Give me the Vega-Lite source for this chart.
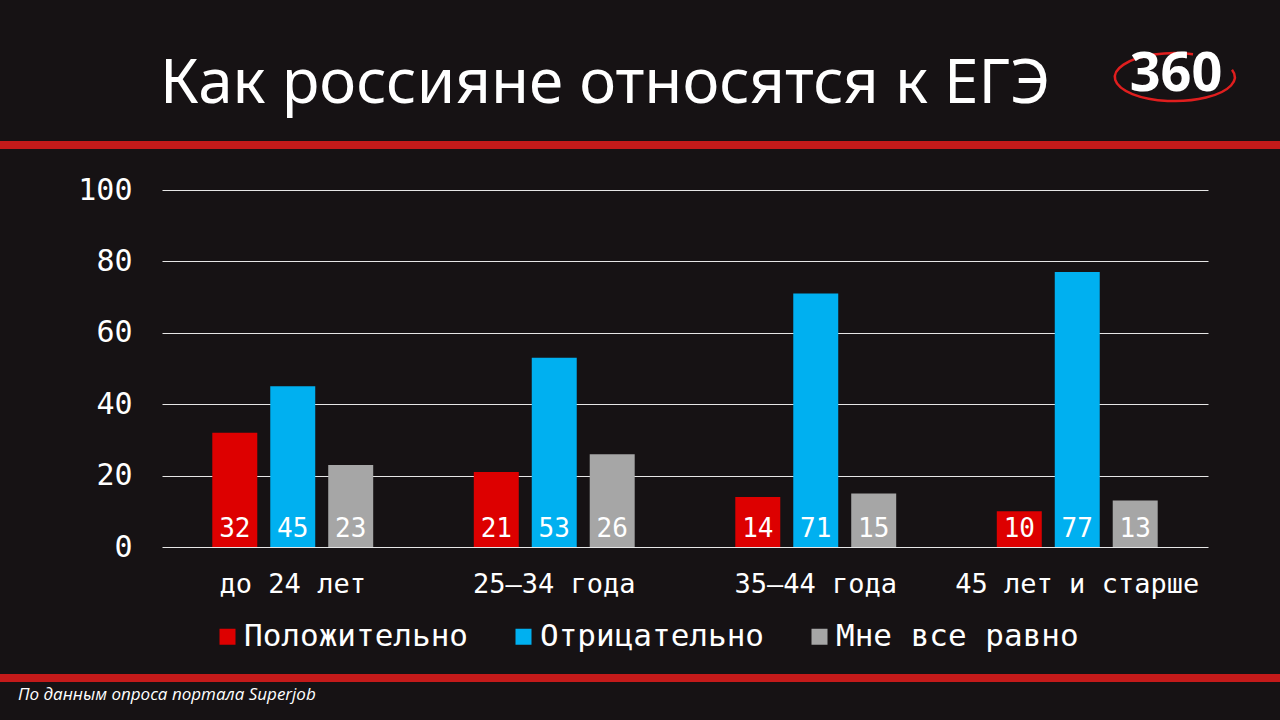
{
  "$schema": "https://vega.github.io/schema/vega-lite/v6.json",
  "width": 1046,
  "height": 357,
  "autosize": {"type": "none"},
  "padding": {"left": 162, "top": 190, "right": 72, "bottom": 173},
  "background": "#161214",
  "data": {
    "values": [
      {"age": "до 24 лет", "answer": "Положительно", "value": 32},
      {"age": "до 24 лет", "answer": "Отрицательно", "value": 45},
      {"age": "до 24 лет", "answer": "Мне все равно", "value": 23},
      {"age": "25–34 года", "answer": "Положительно", "value": 21},
      {"age": "25–34 года", "answer": "Отрицательно", "value": 53},
      {"age": "25–34 года", "answer": "Мне все равно", "value": 26},
      {"age": "35–44 года", "answer": "Положительно", "value": 14},
      {"age": "35–44 года", "answer": "Отрицательно", "value": 71},
      {"age": "35–44 года", "answer": "Мне все равно", "value": 15},
      {"age": "45 лет и старше", "answer": "Положительно", "value": 10},
      {"age": "45 лет и старше", "answer": "Отрицательно", "value": 77},
      {"age": "45 лет и старше", "answer": "Мне все равно", "value": 13}
    ]
  },
  "layer": [
    {
      "mark": {"type": "bar"},
      "encoding": {
        "x": {
          "field": "age", "type": "nominal", "sort": null,
          "scale": {"paddingInner": 0.335, "paddingOuter": 0.1675},
          "axis": {"title": null, "labelAngle": 0, "domain": false, "ticks": false, "labelPadding": 24, "labelLimit": 0,
                   "labelFont": "DejaVu Sans Mono", "labelFontSize": 27, "labelColor": "#ffffff"}
        },
        "xOffset": {
          "field": "answer", "type": "nominal",
          "sort": ["Положительно", "Отрицательно", "Мне все равно"],
          "scale": {"paddingInner": 0.224, "paddingOuter": 0.112}
        },
        "y": {
          "field": "value", "type": "quantitative",
          "scale": {"domain": [0, 100]},
          "axis": {"title": null, "values": [0, 20, 40, 60, 80, 100], "domain": false, "ticks": false,
                   "labelPadding": 30, "labelFont": "DejaVu Sans Mono", "labelFontSize": 30, "labelColor": "#ffffff",
                   "grid": true, "gridColor": "#e6e6e6", "gridWidth": 1.2, "gridOpacity": 1}
        },
        "color": {
          "field": "answer", "type": "nominal",
          "scale": {"domain": ["Положительно", "Отрицательно", "Мне все равно"], "range": ["#dd0000", "#00b0f0", "#a6a6a6"]},
          "legend": {"title": null, "orient": "none", "legendX": 50, "legendY": 431, "direction": "horizontal",
                     "labelFont": "DejaVu Sans Mono", "labelFontSize": 31, "labelColor": "#ffffff", "labelLimit": 0,
                     "symbolType": "square", "symbolSize": 256, "symbolStrokeWidth": 0, "symbolOpacity": 1,
                     "labelOffset": 1, "columnPadding": 40}
        }
      }
    },
    {
      "mark": {"type": "text", "baseline": "alphabetic", "dy": -10, "font": "DejaVu Sans Mono", "fontSize": 26, "color": "#ffffff"},
      "encoding": {
        "x": {"field": "age", "type": "nominal", "sort": null},
        "xOffset": {"field": "answer", "type": "nominal", "sort": ["Положительно", "Отрицательно", "Мне все равно"]},
        "y": {"datum": 0},
        "text": {"field": "value", "type": "quantitative"}
      }
    },
    {
      "data": {"values": [{"title": "Как россияне относятся к ЕГЭ"}]},
      "mark": {"type": "text", "align": "left", "baseline": "alphabetic", "font": "Noto Sans", "fontSize": 62, "color": "#ffffff"},
      "encoding": {"x": {"value": -2}, "y": {"value": -87}, "text": {"field": "title"}}
    },
    {
      "data": {"values": [{"pos": "top"}]},
      "mark": {"type": "rule", "color": "#c41a1a", "strokeWidth": 8},
      "encoding": {"x": {"value": -162}, "x2": {"value": 1118}, "y": {"value": -45}}
    },
    {
      "data": {"values": [{"pos": "bottom"}]},
      "mark": {"type": "rule", "color": "#c41a1a", "strokeWidth": 8},
      "encoding": {"x": {"value": -162}, "x2": {"value": 1118}, "y": {"value": 488}}
    },
    {
      "data": {"values": [{"note": "По данным опроса портала Superjob"}]},
      "mark": {"type": "text", "align": "left", "baseline": "alphabetic", "font": "Open Sans", "fontStyle": "italic", "fontSize": 17, "color": "#ffffff"},
      "encoding": {"x": {"value": -144}, "y": {"value": 510}, "text": {"field": "note"}}
    },
    {
      "data": {"values": [{"logo": "360"}]},
      "mark": {"type": "point", "shape": "M 0.3 -0.38 A 1 0.4 0 1 0 0.95 -0.12", "filled": false, "color": "#e01e1e", "strokeWidth": 2.5, "size": 14400, "opacity": 1},
      "encoding": {"x": {"value": 1013}, "y": {"value": -113}}
    },
    {
      "data": {"values": [{"logo": "360"}]},
      "mark": {"type": "text", "align": "center", "baseline": "middle", "font": "Noto Sans", "fontWeight": "bold", "fontSize": 54, "color": "#ffffff"},
      "encoding": {"x": {"value": 1014}, "y": {"value": -115}, "text": {"field": "logo"}}
    }
  ],
  "config": {
    "view": {"stroke": null}
  }
}
